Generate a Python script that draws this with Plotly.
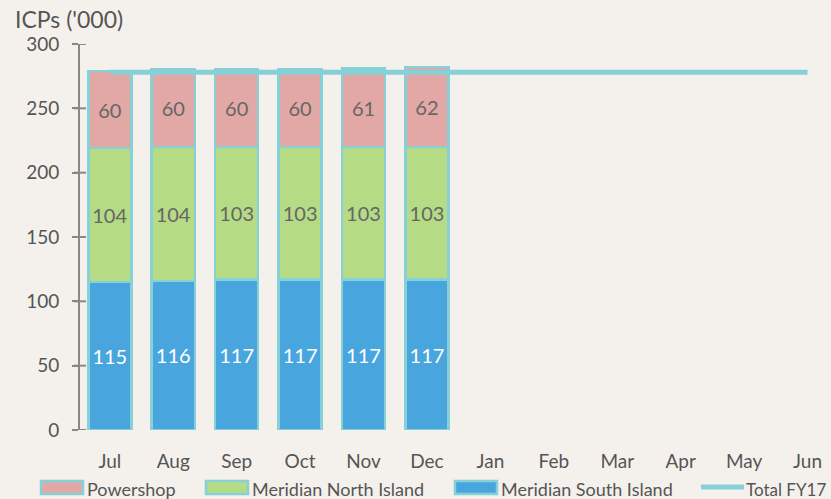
import plotly.graph_objects as go

months = ["Jul", "Aug", "Sep", "Oct", "Nov", "Dec", "Jan", "Feb", "Mar", "Apr", "May", "Jun"]
south_island = [115, 116, 117, 117, 117, 117]
north_island = [104, 104, 103, 103, 103, 103]
powershop = [60, 60, 60, 60, 61, 62]
total_fy17 = [278] * 12
y_ticks = [0, 50, 100, 150, 200, 250, 300]

xs = list(range(len(months)))
bar_x = xs[:len(south_island)]

BG = "#f4f1ec"
OUTLINE = "#86d0d8"
FONT = "Lato, 'Open Sans', sans-serif"
TXT = "#555555"
AXIS = "#888888"
C_PS, C_NI, C_SI = "#e2a8a6", "#b5db85", "#48a5dd"

W, H = 831, 499
L, R, T, B = 80, 0, 44, 69
pw, ph = W - L - R, H - T - B


def px_x(p):
    return (p - L) / pw


def px_y(p):
    return (ph - (p - T)) / ph


fig = go.Figure()
for name, vals, col, tcol in [("Meridian South Island", south_island, C_SI, "white"),
                              ("Meridian North Island", north_island, C_NI, "#666666"),
                              ("Powershop", powershop, C_PS, "#666666")]:
    fig.add_trace(go.Bar(
        x=bar_x, y=vals, name=name,
        marker=dict(color=col, line=dict(color=OUTLINE, width=2.5)),
        text=vals, textposition="inside", insidetextanchor="middle",
        textfont=dict(color=tcol, size=20, family=FONT), width=0.68,
    ))
fig.add_trace(go.Scatter(
    x=xs, y=total_fy17, name="Total FY17", mode="lines",
    line=dict(color=OUTLINE, width=5),
))

annotations = [dict(text="ICPs ('000)", xref="paper", yref="paper", x=px_x(13), y=px_y(19),
                    xanchor="left", yanchor="middle", showarrow=False,
                    font=dict(size=23, color=TXT))]
shapes = []

# custom legend (wide rectangular swatches, as in the original)
legend_items = [("Powershop", C_PS, 41, "box", 18), ("Meridian North Island", C_NI, 206, "box", 18),
                ("Meridian South Island", C_SI, 455, "box", 18), ("Total FY17", OUTLINE, 700, "line", 17)]
for name, col, x0, kind, fs in legend_items:
    if kind == "box":
        shapes.append(dict(type="rect", xref="paper", yref="paper", x0=px_x(x0), x1=px_x(x0 + 42),
                           y0=px_y(494), y1=px_y(481), fillcolor=col,
                           line=dict(color=OUTLINE, width=2.5), layer="above"))
    else:
        shapes.append(dict(type="line", xref="paper", yref="paper", x0=px_x(x0 + 1), x1=px_x(x0 + 44),
                           y0=px_y(487), y1=px_y(487), line=dict(color=col, width=5), layer="above"))
    annotations.append(dict(text=name, xref="paper", yref="paper", x=px_x(x0 + 44), y=px_y(489),
                            xanchor="left", yanchor="middle", showarrow=False,
                            font=dict(size=fs, color=TXT)))

# crossing tick marks on the y axis
for v in y_ticks:
    shapes.append(dict(type="line", xref="x domain", yref="y", x0=-6 / pw, x1=6 / pw, y0=v, y1=v,
                       line=dict(color=AXIS, width=2), layer="above"))

fig.update_layout(
    barmode="stack",
    width=W, height=H,
    paper_bgcolor=BG, plot_bgcolor=BG,
    margin=dict(l=L, r=R, t=T, b=B),
    font=dict(family=FONT, color=TXT, size=17),
    showlegend=False,
    annotations=annotations,
    shapes=shapes,
)
fig.update_xaxes(
    range=[-0.47, 11.37], tickmode="array", tickvals=xs, ticktext=months,
    showgrid=False, zeroline=False, showline=False, automargin=False,
    ticks="outside", ticklen=14, tickcolor="rgba(0,0,0,0)",
    tickfont=dict(size=19, color=TXT),
)
fig.update_yaxes(
    range=[0, 300], tickvals=y_ticks, automargin=False,
    showgrid=False, zeroline=False, showline=True, linecolor=AXIS, linewidth=2,
    ticks="outside", ticklen=6, tickwidth=2, tickcolor=AXIS,
    ticklabelstandoff=9,
    tickfont=dict(size=19, color=TXT),
)
fig.write_html("out.html", config={"displayModeBar": False},
               post_script="document.body.style.margin='0';document.body.style.overflow='hidden';")
